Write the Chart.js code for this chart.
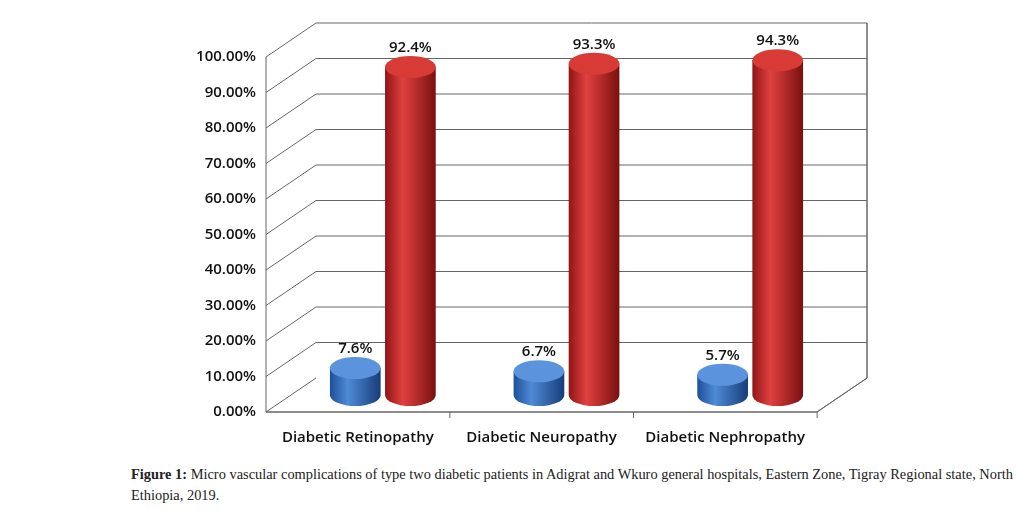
<!DOCTYPE html>
<html><head><meta charset="utf-8">
<script src="https://cdn.jsdelivr.net/npm/chart.js@4"></script>
<style>
body{margin:0;background:#fff;width:1036px;height:511px;overflow:hidden}
#wrap{position:relative;width:1036px;height:460px}
#cap{position:absolute;left:131px;top:464px;width:905px;font-family:"Liberation Serif",serif;font-size:14.4px;line-height:21px;color:#222}
</style></head><body>
<div id="wrap"><canvas id="c" width="1036" height="460"></canvas></div>
<div id="cap"><b>Figure 1:</b> Micro vascular complications of type two diabetic patients in Adigrat and Wkuro general hospitals, Eastern Zone, Tigray Regional state, North Ethiopia, 2019.</div>
<script>
const categories = ['Diabetic Retinopathy', 'Diabetic Neuropathy', 'Diabetic Nephropathy'];
const blueValues = [7.6, 6.7, 5.7];
const redValues = [92.4, 93.3, 94.3];
const tickValues = [0, 10, 20, 30, 40, 50, 60, 70, 80, 90, 100];

const DX = 25, DY = 17; // half depth offset of the 3D box
const FONT = '600 15px "Open Sans", sans-serif';

const cyl = {
    id: 'cyl',
    beforeDatasetsDraw(chart) {
        const c = chart.ctx, y = chart.scales.y, a = chart.chartArea;
        const fl = a.left - DX, fr = a.right - DX, bl = a.left + DX, br = a.right + DX;
        c.save();
        c.strokeStyle = '#666'; c.lineWidth = 1;
        c.font = FONT; c.fillStyle = '#111';
        c.textAlign = 'right'; c.textBaseline = 'middle';
        tickValues.forEach(v => {
            const py = y.getPixelForValue(v);
            c.beginPath();
            c.moveTo(fl, py + DY); c.lineTo(bl, py - DY);
            if (v > 0) c.lineTo(br, py - DY);
            c.stroke();
            c.fillText(v.toFixed(2) + '%', fl - 10, py + DY);
        });
        const p0 = y.getPixelForValue(0);
        c.beginPath();
        c.moveTo(fl, p0 + DY); c.lineTo(fr, p0 + DY); c.lineTo(br, p0 - DY); c.lineTo(br, y.getPixelForValue(100) - DY);
        c.stroke();
        c.moveTo(fl, p0 + DY); c.lineTo(fl, y.getPixelForValue(100) + DY); c.stroke();
        c.textAlign = 'center';
        const xs = chart.scales.x;
        categories.forEach((t, i) => {
            const px = xs.getPixelForValue(i) - DX;
            c.beginPath(); c.moveTo(px + 92, p0 + DY); c.lineTo(px + 92, p0 + DY + 6); c.stroke();
            c.fillText(t, px, p0 + DY + 26);
        });
        c.restore();
    },
    afterDatasetsDraw(chart) {
        const c = chart.ctx;
        const cols = [['#1d4f9a', '#4f8ad6', '#163d7a', '#5b93dc'], ['#8f1515', '#e0413f', '#7a1010', '#d83a36']];
        chart.data.datasets.forEach((ds, di) => {
            chart.getDatasetMeta(di).data.forEach((el, i) => {
                const w = el.width, x = el.x - w / 2, top = el.y, base = el.base, ry = 11;
                const g = c.createLinearGradient(x, 0, x + w, 0);
                g.addColorStop(0, cols[di][0]); g.addColorStop(0.35, cols[di][1]); g.addColorStop(1, cols[di][2]);
                c.save();
                c.fillStyle = g;
                c.beginPath();
                c.moveTo(x, top);
                c.lineTo(x, base);
                c.ellipse(el.x, base, w / 2, ry, 0, Math.PI, 0, true);
                c.lineTo(x + w, top);
                c.closePath(); c.fill();
                c.fillStyle = cols[di][3];
                c.beginPath(); c.ellipse(el.x, top, w / 2, ry, 0, 0, Math.PI * 2); c.fill();
                c.fillStyle = '#111';
                c.font = FONT;
                c.textAlign = 'center'; c.textBaseline = 'bottom';
                c.fillText(ds.data[i].toFixed(1) + '%', el.x, top - ry - 1);
                c.restore();
            });
        });
    }
};

new Chart(document.getElementById('c'), {
    type: 'bar',
    data: {
        labels: categories,
        datasets: [
            { data: blueValues, backgroundColor: 'rgba(0,0,0,0)' },
            { data: redValues, backgroundColor: 'rgba(0,0,0,0)' }
        ]
    },
    options: {
        responsive: false,
        animation: false,
        layout: { padding: { left: 291, right: 194, top: 40, bottom: 65 } },
        plugins: { legend: { display: false }, tooltip: { enabled: false } },
        datasets: { bar: { categoryPercentage: 0.6, barPercentage: 0.92 } },
        scales: {
            x: { display: false },
            y: { display: false, min: 0, max: 100 }
        }
    },
    plugins: [cyl]
});
</script>
</body></html>
